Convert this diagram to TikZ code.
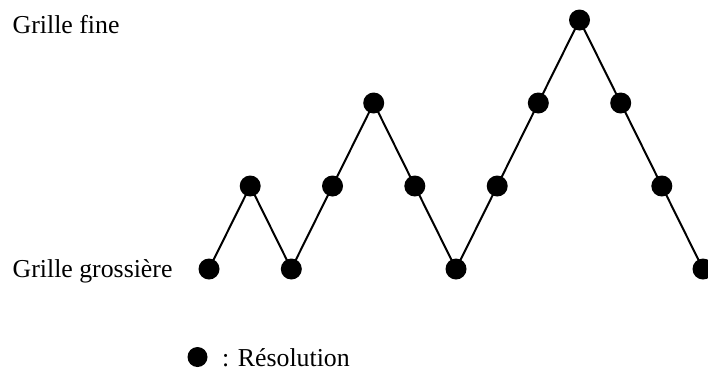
\documentclass[tikz,border=0pt]{standalone}
\usepackage{fontspec}
\setmainfont{Liberation Serif}
\begin{document}
\begin{tikzpicture}[x=1pt,y=-1pt,
  dot/.style={circle,fill=black,inner sep=0pt,minimum size=21pt},
  lbl/.style={anchor=base west,inner sep=0pt,font=\fontsize{25.8}{30}\selectfont},
  link/.style={line width=2pt}]
\useasboundingbox (0,0) rectangle (708,370);
\clip (0,0) rectangle (708,370);
\node[lbl] (fine) at (12.5,33) {Grille fine};
\node[lbl] (gros) at (12.5,277) {Grille grossière};
\foreach \i/\x/\y in {1/209/269,2/250.2/186,3/291.3/269,4/332.5/186,5/373.7/103,6/414.8/186,7/456/269,8/497.2/186,9/538.3/103,10/579.5/20,11/620.7/103,12/661.8/186,13/703/269}{
  \coordinate (p\i) at (\x,\y);
}
\draw[link] (p1) -- (p2) -- (p3) -- (p4) -- (p5) -- (p6) -- (p7) -- (p8) -- (p9) -- (p10) -- (p11) -- (p12) -- (p13);
\foreach \i in {1,...,13}{\node[dot] (n\i) at (p\i) {};}
\node[dot,minimum size=20pt] (leg) at (197.5,357) {};
\node[lbl] (legt) at (222,366) {: Résolution};
\end{tikzpicture}
\end{document}
